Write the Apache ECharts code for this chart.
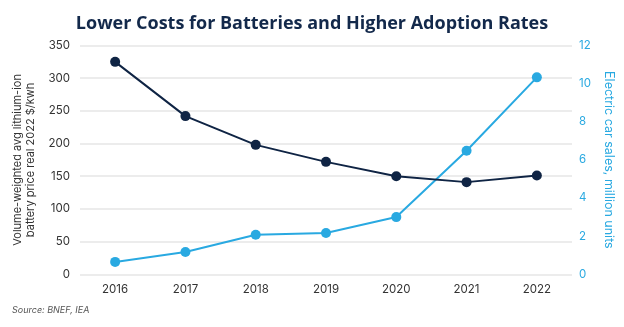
<!DOCTYPE html>
<html>
<head>
<meta charset="utf-8">
<script src="https://cdn.jsdelivr.net/npm/echarts@6/dist/echarts.min.js"></script>
<style>
  html, body { margin: 0; padding: 0; background: #fff; }
  #chart { width: 624px; height: 327px; }
</style>
</head>
<body>
<div id="chart"></div>
<script>
// Years on the category axis
const years = ['2016', '2017', '2018', '2019', '2020', '2021', '2022'];
// Volume-weighted average lithium-ion battery pack price, real 2022 $/kWh
const batteryPrice = [325, 242, 198, 172, 150, 141, 151];
// Global electric car sales, million units
const evSales = [0.65, 1.17, 2.07, 2.17, 3.0, 6.48, 10.33];

const navy = '#0f2444';
const sky = '#29a9e1';
const labelFont = 'Inter, "Noto Sans", sans-serif';

const chart = echarts.init(document.getElementById('chart'), null, { renderer: 'canvas' });

chart.setOption({
  animation: false,
  backgroundColor: '#ffffff',
  title: {
    text: 'Lower Costs for Batteries and Higher Adoption Rates',
    left: 'center',
    top: 10,
    textStyle: {
      fontFamily: '"Open Sans", "Noto Sans", sans-serif',
      fontWeight: 'bold',
      fontSize: 18,
      color: '#13294b'
    }
  },
  graphic: [{
    type: 'text',
    left: 12,
    top: 306,
    style: {
      text: 'Source: BNEF, IEA',
      fontFamily: labelFont,
      fontStyle: 'italic',
      fontSize: 9,
      fill: '#555'
    }
  }],
  grid: { left: 80, right: 52, top: 45.5, bottom: 52.7, containLabel: false },
  xAxis: {
    type: 'category',
    data: years,
    boundaryGap: true,
    axisLine: { show: false },
    axisTick: { show: false },
    axisLabel: { color: '#333', fontSize: 11.5, fontFamily: labelFont, margin: 9 }
  },
  yAxis: [{
    type: 'value',
    min: 0,
    max: 350,
    interval: 50,
    name: 'Volume-weighted avg lithium-ion\nbattery price real 2022 $/kwh',
    nameLocation: 'middle',
    nameGap: 34,
    nameTextStyle: { color: '#333', fontSize: 11, fontFamily: labelFont, lineHeight: 13 },
    axisLine: { show: false },
    axisTick: { show: false },
    axisLabel: { color: '#333', fontSize: 11.5, fontFamily: labelFont, margin: 10 },
    splitLine: { lineStyle: { color: '#e6e6e6', width: 1.5 } }
  }, {
    type: 'value',
    min: 0,
    max: 12,
    interval: 2,
    position: 'right',
    name: 'Electric car sales, million units',
    nameLocation: 'middle',
    nameGap: 30,
    nameRotate: -90,
    nameTextStyle: { color: sky, fontSize: 12.5, fontFamily: labelFont },
    axisLine: { show: false },
    axisTick: { show: false },
    axisLabel: { color: sky, fontSize: 11.5, fontFamily: labelFont, margin: 7 },
    splitLine: { show: false }
  }],
  series: [{
    name: 'Battery price',
    type: 'line',
    yAxisIndex: 0,
    data: batteryPrice,
    symbol: 'circle',
    symbolSize: 10,
    lineStyle: { color: navy, width: 2 },
    itemStyle: { color: navy },
    z: 3
  }, {
    name: 'EV sales',
    type: 'line',
    yAxisIndex: 1,
    data: evSales,
    symbol: 'circle',
    symbolSize: 10,
    lineStyle: { color: sky, width: 2 },
    itemStyle: { color: sky },
    z: 2
  }]
});
</script>
</body>
</html>
